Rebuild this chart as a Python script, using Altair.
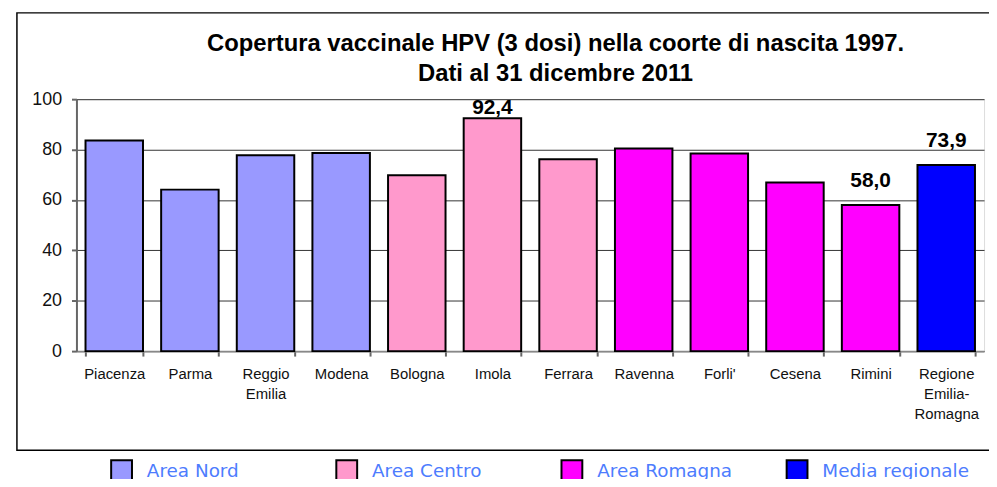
import altair as alt
import pandas as pd

categories = ["Piacenza", "Parma", "Reggio Emilia", "Modena", "Bologna", "Imola",
              "Ferrara", "Ravenna", "Forli'", "Cesena", "Rimini", "Regione Emilia-Romagna"]
values = [83.6, 64.1, 77.7, 78.6, 69.8, 92.4, 76.2, 80.4, 78.4, 66.9, 58.0, 73.9]
areas = ["Area Nord", "Area Nord", "Area Nord", "Area Nord", "Area Centro", "Area Centro",
         "Area Centro", "Area Romagna", "Area Romagna", "Area Romagna", "Area Romagna",
         "Media regionale"]
labelled = ["Imola", "Rimini", "Regione Emilia-Romagna"]
area_names = ["Area Nord", "Area Centro", "Area Romagna", "Media regionale"]
area_colors = ["#9999FF", "#FF99CC", "#FF00FF", "#0000FF"]
y_ticks = [0, 20, 40, 60, 80, 100]
title_line1 = "Copertura vaccinale HPV (3 dosi) nella coorte di nascita 1997."
title_line2 = "Dati al 31 dicembre 2011"

df = pd.DataFrame({"cat": categories, "val": values, "area": areas})
df["label"] = [f"{v:.1f}".replace(".", ",") if c in labelled else "" for c, v in zip(categories, values)]

W, H = 915, 254

x = alt.X("cat:N", sort=categories, title=None,
          scale=alt.Scale(paddingInner=0.24, paddingOuter=0.12),
          axis=alt.Axis(labelAngle=0, labelFont="Liberation Sans", labelFontSize=15,
                        labelColor="#111", labelLineHeight=20, labelPadding=11,
                        labelExpr="split(replace(datum.label, '-', '- '), ' ')",
                        tickBand="extent", tickSize=5, tickColor="#666", tickWidth=2,
                        domainColor="#888", domainWidth=2, labelBaseline="top"))

one = pd.DataFrame({"k": [0]})

frame = alt.Chart(one).mark_rect(
    fill=None, stroke="#000", strokeWidth=1.5, clip=False
).encode(x=alt.value(-60), x2=alt.value(1000), y=alt.value(-87), y2=alt.value(354))

t1 = alt.Chart(one).mark_text(
    font="Liberation Sans", fontSize=24, fontWeight="bold", color="#000",
    align="center", baseline="alphabetic"
).encode(x=alt.value(483), y=alt.value(-49), text=alt.value(title_line1))

t2 = alt.Chart(one).mark_text(
    font="Liberation Sans", fontSize=24, fontWeight="bold", color="#000",
    align="center", baseline="alphabetic"
).encode(x=alt.value(483), y=alt.value(-18), text=alt.value(title_line2))

bars = alt.Chart(df).mark_bar(stroke="#000", strokeWidth=2).encode(
    x=x,
    y=alt.Y("val:Q", title=None,
            scale=alt.Scale(domain=[0, 100], nice=False),
            axis=alt.Axis(values=y_ticks, labelFont="Liberation Sans", labelFontSize=18,
                          labelColor="#111", labelPadding=10, tickSize=5, tickColor="#666",
                          tickWidth=2, domainColor="#666", domainWidth=2,
                          grid=True, gridColor="#333", gridWidth=1)),
    color=alt.Color("area:N", scale=alt.Scale(domain=area_names, range=area_colors),
                    title=None,
                    legend=alt.Legend(orient="none", legendX=34, legendY=363,
                                      direction="horizontal", columns=4, gridAlign="all",
                                      columnPadding=39, symbolType="square",
                                      symbolSize=441, symbolStrokeColor="#000",
                                      symbolStrokeWidth=2, symbolOpacity=1,
                                      labelFont="DejaVu Sans", labelFontSize=18.5,
                                      labelColor="#4D7CFE", labelOffset=14,
                                      labelLimit=300)),
)

texts = alt.Chart(df).transform_filter("datum.label != ''").transform_calculate(
    ly="min(datum.val + 9.5, 96.5)"
).mark_text(font="Liberation Sans", fontSize=21, fontWeight="bold", color="#000",
            baseline="middle").encode(
    x=alt.X("cat:N", sort=categories),
    y=alt.Y("ly:Q"),
    text="label:N",
)

chart = alt.layer(frame, bars, texts, t1, t2).properties(
    width=W, height=H,
    padding={"left": 69, "top": 90, "right": 5, "bottom": 127},
    autosize=alt.AutoSizeParams(type="none"),
).configure_view(stroke="#888", strokeWidth=2).configure(background="white")

chart.save("out.html", embed_options={"renderer": "svg", "actions": False})
